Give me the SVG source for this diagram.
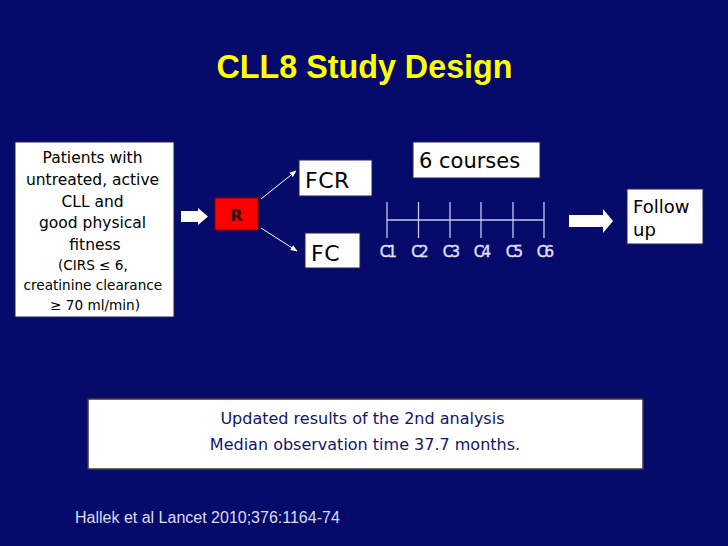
<svg xmlns="http://www.w3.org/2000/svg" width="728" height="546" viewBox="0 0 728 546">
<defs>
<style>
.box{fill:#ffffff;stroke:#20205a;stroke-width:1}
.t{font-family:"DejaVu Sans",Verdana,sans-serif;fill:#000000}
.c{font-family:"DejaVu Sans",Verdana,sans-serif;fill:#e0e0f8;stroke:#e0e0f8;stroke-width:0.4;font-size:15px;letter-spacing:-2.8px;text-anchor:middle}
.ln{stroke:#ffffff;stroke-width:1;fill:none}
.tl{stroke:#c8c8f0;stroke-width:1.3;fill:none}
.blk{fill:#ffffff}
</style>
<marker id="ah" viewBox="0 0 10 10" refX="9" refY="5" markerWidth="7" markerHeight="7" orient="auto" markerUnits="userSpaceOnUse">
<path d="M0,1 L10,5 L0,9 Z" fill="#ffffff"/>
</marker>
</defs>
<rect x="0" y="0" width="728" height="546" fill="#050a6b"/>
<text x="364.5" y="78" text-anchor="middle" font-family="'Liberation Sans',Arial,sans-serif" font-weight="bold" font-size="32.3" fill="#ffff00">CLL8 Study Design</text>

<g id="patients">
<rect class="box" x="15" y="142" width="159" height="175"/>
<text class="t" text-anchor="middle" font-size="15.5">
<tspan x="95" y="163">Patients with</tspan>
<tspan x="95" y="185">untreated, active</tspan>
<tspan x="95" y="207">CLL and</tspan>
<tspan x="95" y="228">good physical</tspan>
<tspan x="95" y="250">fitness</tspan>
</text>
<text class="t" text-anchor="middle" font-size="13.6">
<tspan x="95" y="270">(CIRS ≤ 6,</tspan>
<tspan x="95" y="290">creatinine clearance</tspan>
<tspan x="95" y="310">≥ 70 ml/min)</tspan>
</text>
</g>

<g id="R">
<rect x="215" y="198" width="43" height="32" fill="#ff0000" stroke="#8a0000" stroke-width="1"/>
<text x="236.5" y="221" text-anchor="middle" font-family="'DejaVu Sans',Verdana,sans-serif" font-weight="bold" font-size="16" fill="#3a0000">R</text>
</g>

<g id="FCR">
<rect class="box" x="299" y="160" width="73" height="36"/>
<text class="t" x="305" y="188" font-size="22" letter-spacing="0.5">FCR</text>
</g>

<g id="FC">
<rect class="box" x="305" y="233" width="55" height="35"/>
<text class="t" x="311" y="261" font-size="22" letter-spacing="0.5">FC</text>
</g>

<g id="courses">
<rect class="box" x="413" y="142" width="127" height="36"/>
<text class="t" x="419" y="168" font-size="21">6 courses</text>
</g>

<g id="timeline">
<line class="tl" x1="387" y1="220" x2="544" y2="220"/>
<line class="tl" x1="387" y1="202" x2="387" y2="238"/>
<line class="tl" x1="418.5" y1="202" x2="418.5" y2="238"/>
<line class="tl" x1="450" y1="202" x2="450" y2="238"/>
<line class="tl" x1="481" y1="202" x2="481" y2="238"/>
<line class="tl" x1="513" y1="202" x2="513" y2="238"/>
<line class="tl" x1="544" y1="202" x2="544" y2="238"/>
<text class="c" x="387" y="257">C1</text>
<text class="c" x="418.5" y="257">C2</text>
<text class="c" x="450" y="257">C3</text>
<text class="c" x="481" y="257">C4</text>
<text class="c" x="513" y="257">C5</text>
<text class="c" x="544" y="257">C6</text>
</g>

<g id="followup">
<rect class="box" x="627" y="189" width="76" height="55"/>
<text class="t" font-size="18">
<tspan x="633" y="213">Follow</tspan>
<tspan x="633" y="236">up</tspan>
</text>
</g>

<g id="results">
<rect x="88" y="399" width="555" height="70" fill="#ffffff" stroke="#3a3a3a" stroke-width="1.5"/>
<text text-anchor="middle" font-family="'DejaVu Sans',Verdana,sans-serif" font-size="16" fill="#14146a">
<tspan x="365" y="424">Updated results of the 2nd analysis</tspan>
<tspan x="365" y="450">Median observation time 37.7 months.</tspan>
</text>
</g>

<text x="75" y="523" font-family="'Liberation Sans',Arial,sans-serif" font-size="16" fill="#dcdcf6">Hallek et al Lancet 2010;376:1164-74</text>

<g id="connectors">
<path class="blk" d="M181,211 L198,211 L198,208 L208,216.5 L198,225 L198,222 L181,222 Z"/>
<path class="blk" d="M569,215 L603,215 L603,209 L613,221 L603,233 L603,227 L569,227 Z"/>
<line class="ln" x1="261" y1="199" x2="296" y2="171" marker-end="url(#ah)"/>
<line class="ln" x1="261" y1="228" x2="297" y2="251" marker-end="url(#ah)"/>
</g>
</svg>
